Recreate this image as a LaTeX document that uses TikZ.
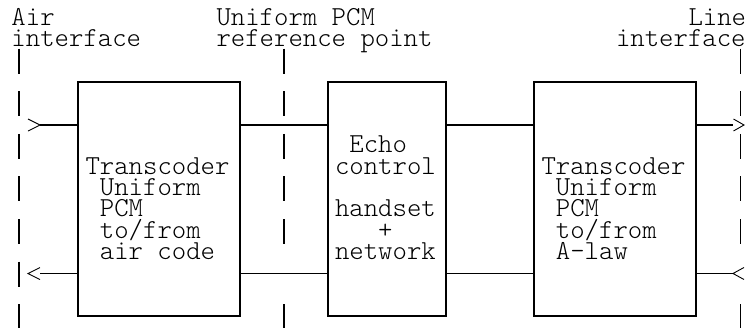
\documentclass[tikz,border=0pt]{standalone}
\usepackage{fontspec}
\setmonofont{Latin Modern Mono Light}
\usetikzlibrary{calc}
\begin{document}
\begin{tikzpicture}[x=1pt,y=-1pt,
  box/.style={draw, line width=1.5pt, minimum width=#1, minimum height=234pt, inner sep=0pt},
  txt/.style={anchor=base west, inner sep=0pt, outer sep=0pt, text height=15pt, text depth=4pt,
    font=\ttfamily\fontsize{27.43}{21.3}\selectfont},
  wire/.style={line width=1.3pt},
  pipe/.style={line width=1.6pt},
  chev/.style={line width=0.9pt, line join=miter}]
\useasboundingbox (0,0) rectangle (745,327);

% boxes
\node[box=162pt] (b1) at (159,199) {};
\node[box=118pt] (b2) at (387,199) {};
\node[box=162pt] (b3) at (615,199) {};

% labels on top
\node[txt] (airA) at (11.5,25) {Air};
\node[txt] (airB) at (11.5,46.3) {interface};
\node[txt] (refA) at (216.5,25) {Uniform PCM};
\node[txt] (refB) at (216.5,46.3) {reference point};
\node[txt] (lineA) at (688.5,25) {Line};
\node[txt] (lineB) at (616,46.3) {interface};

% box 1 text
\node[txt] (t1a) at (85.5,174.1) {Transcoder};
\node[txt] (t1b) at (85.5,195.4) {\hphantom{x}Uniform};
\node[txt] (t1c) at (85.5,216.7) {\hphantom{x}PCM};
\node[txt] (t1d) at (85.5,238) {\hphantom{x}to/from};
\node[txt] (t1e) at (85.5,259.3) {\hphantom{x}air code};

% box 2 text
\node[txt] (t2a) at (335,152.8) {\hphantom{x}Echo};
\node[txt] (t2b) at (335,174.1) {control};
\node[txt] (t2c) at (335,216.7) {handset};
\node[txt] (t2d) at (335,238) {\hphantom{xxx}+};
\node[txt] (t2e) at (335,259.3) {network};

% box 3 text
\node[txt] (t3a) at (541.5,174.1) {Transcoder};
\node[txt] (t3b) at (541.5,195.4) {\hphantom{x}Uniform};
\node[txt] (t3c) at (541.5,216.7) {\hphantom{x}PCM};
\node[txt] (t3d) at (541.5,238) {\hphantom{x}to/from};
\node[txt] (t3e) at (541.5,259.3) {\hphantom{x}A-law};

% reference lines (pipes)
\foreach \r in {3,5,7,9,11,13,15}
  \draw[pipe] (19,{25+21.3*(\r-1)-19}) -- ++(0,25);
\foreach \r in {3,5,7,9,11,15} {
  \draw[pipe] (284,{25+21.3*(\r-1)-19}) -- ++(0,25);
  \draw[pipe] (740.5,{25+21.3*(\r-1)-19}) -- ++(0,25);
}

% free ends
\coordinate (inT) at (40,125);
\coordinate (inB) at (40,273.5);
\coordinate (outT) at (733,125);
\coordinate (outB) at (733,273.5);

% top path
\draw[wire] (inT) -- (inT -| b1.west);
\draw[wire] (inT -| b1.east) -- (inT -| b2.west);
\draw[wire] (inT -| b2.east) -- (inT -| b3.west);
\draw[wire] (inT -| b3.east) -- (outT);
% bottom path
\draw[wire] (inB) -- (inB -| b1.west);
\draw[wire] (inB -| b1.east) -- (inB -| b2.west);
\draw[wire] (inB -| b2.east) -- (inB -| b3.west);
\draw[wire] (inB -| b3.east) -- (outB);

% chevrons
\draw[chev] ($(inT)+(-12,-6)$) -- (inT) -- ($(inT)+(-12,6)$);
\draw[chev] ($(inB)+(0,-6)$) -- ($(inB)+(-12,0)$) -- ($(inB)+(0,6)$);
\draw[chev] ($(outT)+(0.5,-6)$) -- ($(outT)+(11,0)$) -- ($(outT)+(0.5,6)$);
\draw[chev] ($(outB)+(11,-6)$) -- (outB) -- ($(outB)+(11,6)$);
\end{tikzpicture}
\end{document}
